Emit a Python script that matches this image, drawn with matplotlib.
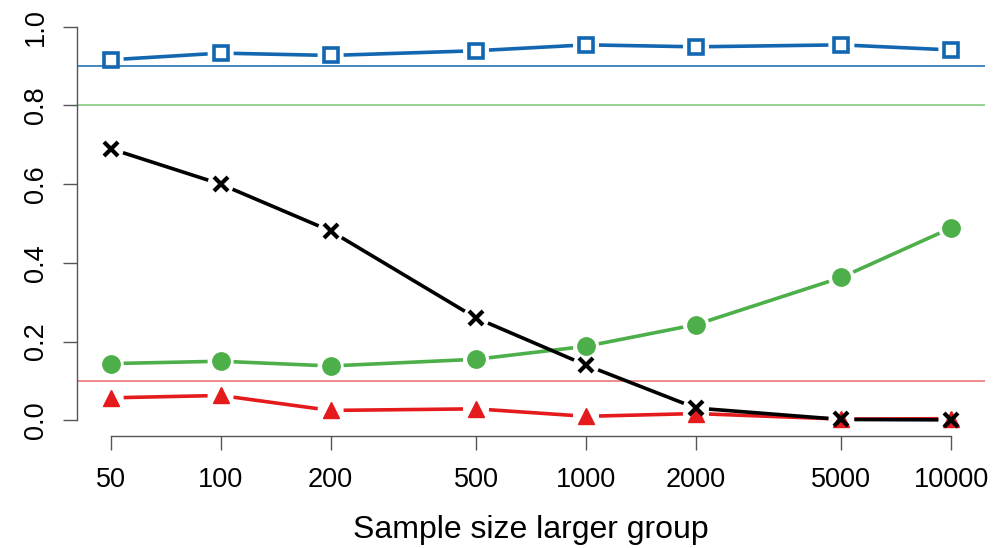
import numpy as np
import matplotlib
matplotlib.use("Agg")
import matplotlib.pyplot as plt
from matplotlib.ticker import FixedLocator, FixedFormatter, NullLocator

plt.rcParams['font.family'] = ['Liberation Sans', 'DejaVu Sans']

# sample sizes of the larger group
n_sizes = [50, 100, 200, 500, 1000, 2000, 5000, 10000]
x_labels = ["50", "100", "200", "500", "1000", "2000", "5000", "10000"]

# proportions per sample size
blue_vals = [0.916, 0.933, 0.927, 0.939, 0.954, 0.949, 0.954, 0.941]
black_vals = [0.690, 0.600, 0.481, 0.260, 0.140, 0.031, 0.002, 0.001]
green_vals = [0.144, 0.150, 0.138, 0.155, 0.188, 0.243, 0.363, 0.489]
red_vals = [0.057, 0.063, 0.025, 0.029, 0.010, 0.017, 0.003, 0.004]

# reference levels
ref_levels = [0.9, 0.8, 0.1]

BLUE = "#1267b0"
GREEN = "#4daf4a"
RED = "#e41a1c"
BLACK = "#000000"

fig = plt.figure(figsize=(9.97, 5.48), dpi=100)
ax = fig.add_axes([77 / 997, (548 - 436) / 548, (985 - 77) / 997, (436 - 11) / 548])

ax.set_xscale("log")
lx0, lx1 = np.log10(50), np.log10(10000)
pad = 0.04 * (lx1 - lx0)
ax.set_xlim(10 ** (lx0 - pad), 10 ** (lx1 + pad))
ax.set_ylim(-0.04, 1.04)

for lvl, col in zip(ref_levels, [BLUE, "#7cc576", "#ee6a6c"]):
    ax.axhline(lvl, color=col, lw=1.1, zorder=1)


def gapped_line(xs, ys, color, gap=13, lw=2.6, z=2):
    # draw segments between points leaving a gap around each marker
    pts = ax.transData.transform(np.column_stack([xs, ys]))
    inv = ax.transData.inverted()
    for p, q in zip(pts[:-1], pts[1:]):
        d = q - p
        L = np.hypot(*d)
        if L <= 2 * gap:
            continue
        u = d / L
        a = inv.transform(p + u * gap)
        b = inv.transform(q - u * gap)
        ax.plot([a[0], b[0]], [a[1], b[1]], color=color, lw=lw,
                solid_capstyle="butt", zorder=z)


fig.canvas.draw()

gapped_line(n_sizes, red_vals, RED)
ax.plot(n_sizes, red_vals, ls="none", marker="^", ms=12, color=RED, zorder=3)

gapped_line(n_sizes, green_vals, GREEN)
ax.plot(n_sizes, green_vals, ls="none", marker="o", ms=12.5, color=GREEN, zorder=3)

gapped_line(n_sizes, blue_vals, BLUE)
ax.plot(n_sizes, blue_vals, ls="none", marker="s", ms=10.5, mfc="white",
        mec=BLUE, mew=2.6, zorder=3)

gapped_line(n_sizes, black_vals, BLACK, z=4)
ax.plot(n_sizes, black_vals, ls="none", marker="x", ms=10.5, mec=BLACK,
        mew=3.0, zorder=5)

# R-style axes
for s in ["top", "right"]:
    ax.spines[s].set_visible(False)
ax.spines["left"].set_bounds(0, 1)
ax.spines["bottom"].set_bounds(50, 10000)
for s in ["left", "bottom"]:
    ax.spines[s].set_color("#555555")
    ax.spines[s].set_linewidth(1.0)

ax.xaxis.set_major_locator(FixedLocator(n_sizes))
ax.xaxis.set_major_formatter(FixedFormatter(x_labels))
ax.xaxis.set_minor_locator(NullLocator())
ax.set_yticks([0, 0.2, 0.4, 0.6, 0.8, 1.0])
ax.set_yticklabels(["0.0", "0.2", "0.4", "0.6", "0.8", "1.0"], rotation=90, va="center")
ax.tick_params(axis="both", length=10, width=1.0, color="#555555",
               labelsize=19.5)
ax.tick_params(axis="x", pad=12)
ax.tick_params(axis="y", pad=10)

ax.set_xlabel("Sample size larger group", fontsize=23, labelpad=16)

fig.savefig("out.png", dpi=100)
